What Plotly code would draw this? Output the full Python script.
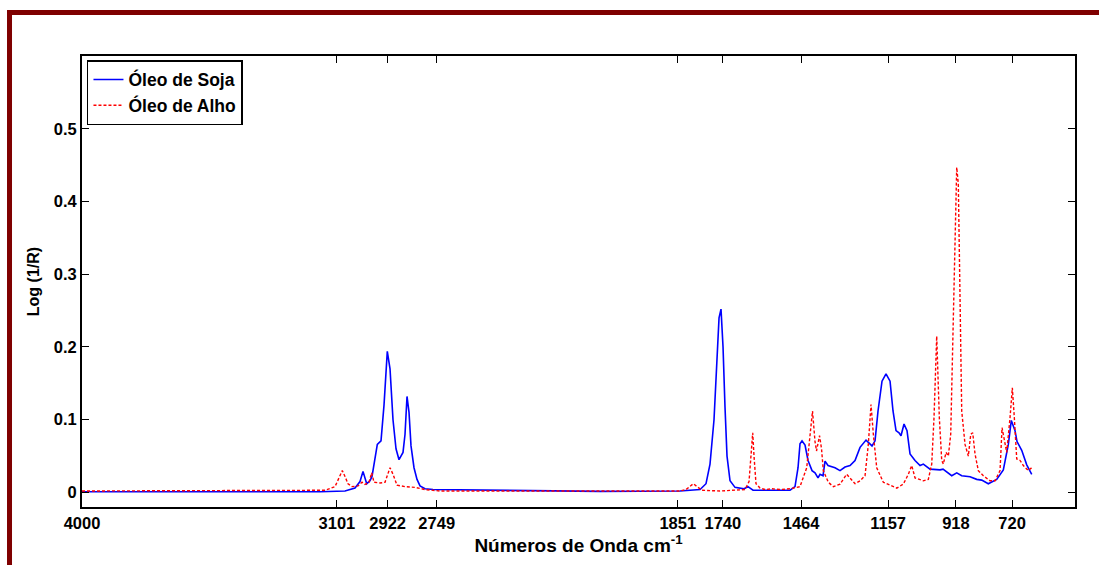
import plotly.graph_objects as go

# Óleo de Soja (wavenumber cm-1, Log(1/R))
soja_x = [4000, 3760, 3407.5, 3160.6, 3072.5, 3037.2, 3019.5, 3009, 2995.9, 2984.3, 2977.2, 2966.6,
          2958.5, 2945.5, 2934.9, 2923.3, 2913.7, 2903.2, 2892.6, 2882, 2867.9, 2860.8, 2853.8, 2846.7,
          2839.7, 2829.1, 2818.5, 2807.9, 2790.3, 2762.1, 2525.8, 2173.1, 1891, 1820.4, 1799.3, 1785.2,
          1771.1, 1760.5, 1753.4, 1746.4, 1739.3, 1732.3, 1725.2, 1714.6, 1697, 1665.3, 1651.2, 1633.5,
          1503, 1485.4, 1474.8, 1467.8, 1460.7, 1450.1, 1439.5, 1425.4, 1414.9, 1404.3, 1397.2, 1386.6,
          1379.6, 1369, 1344.3, 1326.7, 1309.1, 1291.4, 1273.8, 1256.1, 1235, 1213.8, 1203.2, 1192.7,
          1178.6, 1164.5, 1150.3, 1139.8, 1129.2, 1118.6, 1111.6, 1101, 1090.4, 1079.8, 1062.2, 1044.5,
          1032.9, 1009.3, 974, 963.4, 932.7, 915.1, 897.5, 868.2, 844.6, 827, 803.7, 774.1, 750.8,
          733.1, 722.6, 709.5, 702.4, 685.9, 668.2, 650.6]
soja_y = [0.001, 0.001, 0.0005, 0.001, 0.002, 0.006, 0.015, 0.029, 0.012, 0.016, 0.022, 0.045,
          0.066, 0.071, 0.12, 0.194, 0.17, 0.1, 0.06, 0.045, 0.055, 0.08, 0.132, 0.11,
          0.064, 0.034, 0.018, 0.009, 0.005, 0.004, 0.003, 0.0015, 0.002, 0.004, 0.012, 0.039,
          0.1, 0.19, 0.24, 0.252, 0.2, 0.117, 0.05, 0.016, 0.007, 0.005, 0.008, 0.003,
          0.003, 0.008, 0.034, 0.067, 0.071, 0.065, 0.044, 0.03, 0.027, 0.02, 0.025, 0.023,
          0.043, 0.037, 0.034, 0.03, 0.035, 0.037, 0.044, 0.062, 0.072, 0.064, 0.071, 0.112,
          0.153, 0.163, 0.153, 0.112, 0.085, 0.082, 0.078, 0.094, 0.085, 0.053, 0.044, 0.037,
          0.039, 0.032, 0.031, 0.032, 0.023, 0.027, 0.023, 0.0215, 0.018, 0.017, 0.012, 0.018, 0.031,
          0.066, 0.099, 0.085, 0.07, 0.058, 0.038, 0.025]

# Óleo de Alho
alho_x = [4000, 3583.8, 3231.2, 3143, 3107.7, 3093.6, 3082, 3072.5, 3061.9, 3047.8, 3026.6, 3012.5,
          3001.9, 2987.8, 2978.3, 2970.2, 2949, 2931.4, 2920.8, 2913.7, 2903.2, 2889.1, 2860.8, 2825.6,
          2790.3, 2737.4, 2173.1, 1891, 1869.8, 1855.7, 1844.1, 1831, 1813.4, 1749.9, 1661.7, 1647.6,
          1640.6, 1634.6, 1630, 1623, 1608.8, 1591.2, 1566.5, 1538.3, 1503, 1467.8, 1444.1, 1432.5,
          1423.7, 1414.9, 1409.6, 1399, 1391.9, 1385.6, 1368, 1350.3, 1326.7, 1303.1, 1291.4, 1273.8,
          1256.1, 1238.5, 1226.9, 1217.4, 1209.2, 1197.3, 1174, 1150.3, 1126.7, 1103.4, 1085.8, 1073.8,
          1062.2, 1032.9, 1015.3, 1003.3, 995.2, 985.7, 976.5, 968, 962.4, 952.8, 944.7, 936.3, 927.1,
          915.1, 909.5, 903.5, 897.5, 885.8, 874.2, 865.7, 858.7, 850.6, 839, 821.3, 797.7, 780,
          762.4, 755.3, 750.8, 738.8, 727.1, 719, 712, 703.5, 691.9, 680.2, 662.6, 650.6]
alho_y = [0.002, 0.002, 0.002, 0.003, 0.008, 0.02, 0.030, 0.022, 0.012, 0.008, 0.009, 0.014,
          0.011, 0.014, 0.027, 0.014, 0.013, 0.014, 0.025, 0.034, 0.025, 0.01, 0.008, 0.007,
          0.004, 0.002, 0.002, 0.002, 0.004, 0.009, 0.012, 0.008, 0.003, 0.002, 0.004, 0.015,
          0.05, 0.082, 0.05, 0.012, 0.006, 0.004, 0.005, 0.004, 0.005, 0.008, 0.034, 0.08,
          0.112, 0.07, 0.057, 0.078, 0.06, 0.03, 0.014, 0.008, 0.0115, 0.025, 0.02, 0.012,
          0.016, 0.023, 0.066, 0.121, 0.08, 0.034, 0.014, 0.01, 0.006, 0.0115, 0.025, 0.037,
          0.02, 0.016, 0.018, 0.039, 0.103, 0.215, 0.103, 0.044, 0.039, 0.055, 0.05, 0.08, 0.24,
          0.447, 0.424, 0.24, 0.112, 0.066, 0.05, 0.08, 0.082, 0.053, 0.03, 0.023, 0.016, 0.016,
          0.03, 0.089, 0.08, 0.055, 0.103, 0.144, 0.103, 0.046, 0.044, 0.037, 0.03, 0.034]

# tick labels and where the reference draws them on the axis
x_tick_labels = ["4000", "3101", "2922", "2749", "1851", "1740", "1464", "1157", "918", "720"]
x_tick_pos = [4000, 3101, 2922, 2749, 1899, 1740, 1464, 1157, 918, 720]
y_ticks = [0, 0.1, 0.2, 0.3, 0.4, 0.5]
y_tick_labels = ["0", "0.1", "0.2", "0.3", "0.4", "0.5"]

FONT = "Arial, Liberation Sans, sans-serif"

fig = go.Figure()
fig.add_trace(go.Scatter(x=soja_x, y=soja_y, mode="lines", name="Óleo de Soja",
                         line=dict(color="#0000ff", width=1.6)))
fig.add_trace(go.Scatter(x=alho_x, y=alho_y, mode="lines", name="Óleo de Alho",
                         line=dict(color="#ff0000", width=1.4, dash="3px,2px")))

axis_common = dict(showline=True, linewidth=2, linecolor="black", mirror="ticks",
                   ticks="inside", ticklen=7, tickwidth=1.2, tickcolor="black",
                   showgrid=False, zeroline=False, automargin=False, tickangle=0,
                   tickfont=dict(family=FONT, size=16.5, color="black", weight="bold"))

fig.update_xaxes(range=[4000, 498], tickvals=x_tick_pos, ticktext=x_tick_labels,
                 title=dict(text="Números de Onda cm<sup>-1</sup>", standoff=4,
                            font=dict(family=FONT, size=19, color="black", weight="bold")),
                 **axis_common)
fig.update_yaxes(range=[-0.02, 0.6], tickvals=y_ticks, ticktext=y_tick_labels,
                 title=dict(text="Log (1/R)", standoff=10,
                            font=dict(family=FONT, size=16, color="black", weight="bold")),
                 **axis_common)

fig.update_layout(
    width=1099, height=565,
    margin=dict(l=82, r=24, t=56, b=58),
    paper_bgcolor="white", plot_bgcolor="white",
    showlegend=True,
    legend=dict(x=0.005, y=0.991, xanchor="left", yanchor="top",
                bgcolor="white", bordercolor="black", borderwidth=1.5,
                font=dict(family=FONT, size=17.5, color="black", weight="bold"),
                tracegroupgap=0, itemwidth=30),
    shapes=[
        dict(type="line", xref="paper", yref="paper", x0=-0.0755, x1=1.05, y0=1.0965, y1=1.0965,
             line=dict(color="#7f0000", width=5)),
        dict(type="line", xref="paper", yref="paper", x0=-0.073, x1=-0.073, y0=1.102, y1=-0.2,
             line=dict(color="#7f0000", width=5)),
    ],
)

fig.write_html("out.html")
